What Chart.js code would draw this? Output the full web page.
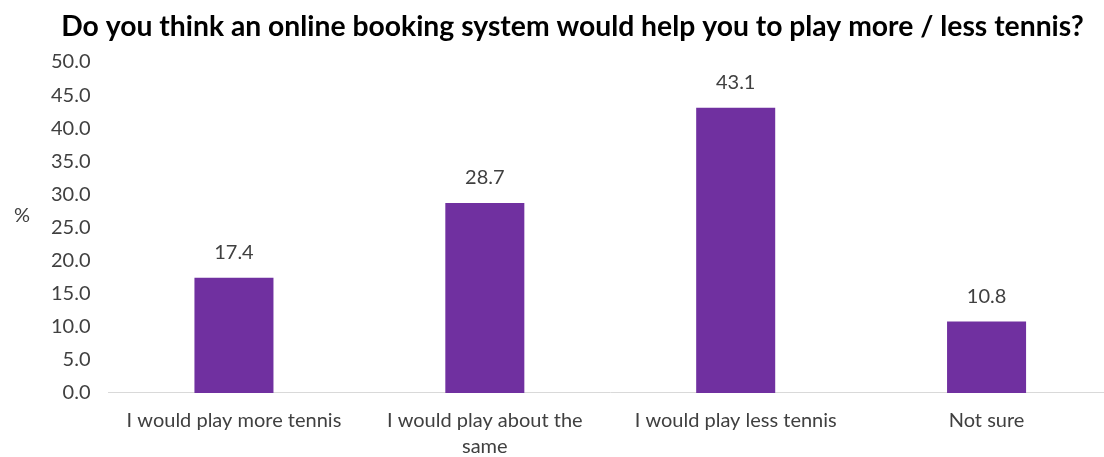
<!DOCTYPE html>
<html>
<head>
<meta charset="utf-8">
<script src="https://cdn.jsdelivr.net/npm/chart.js@4/dist/chart.umd.min.js"></script>
<style>
  html, body { margin: 0; padding: 0; background: #ffffff; overflow: hidden; }
  #wrap { width: 1112px; height: 457px; position: relative; }
</style>
</head>
<body>
<div id="wrap"><canvas id="chart"></canvas></div>
<script>
//Chart data
const categories = [
  "I would play more tennis",
  ["I would play about the", "same"],
  "I would play less tennis",
  "Not sure",
];
const percentages = [17.4, 28.7, 43.1, 10.8];
const yTicks = [0, 5, 10, 15, 20, 25, 30, 35, 40, 45, 50];

const fontFamily = "Lato, 'Open Sans', sans-serif";
const textColor = "#404040";

//Draws the value above each bar and the "%" axis label
const labelPlugin = {
  id: "barLabels",
  afterDatasetsDraw(chart) {
    const ctx = chart.ctx;
    const meta = chart.getDatasetMeta(0);
    ctx.save();
    ctx.font = `20px ${fontFamily}`;
    ctx.fillStyle = textColor;
    ctx.textAlign = "center";
    ctx.textBaseline = "middle";
    meta.data.forEach((bar, i) => {
      ctx.fillText(percentages[i].toFixed(1), bar.x, bar.y - 25);
    });
    const area = chart.chartArea;
    ctx.textAlign = "center";
    ctx.fillText("%", 22, (area.top + area.bottom) / 2 - 12);
    ctx.restore();
  },
};

new Chart(document.getElementById("chart"), {
  type: "bar",
  data: {
    labels: categories,
    datasets: [
      {
        data: percentages,
        backgroundColor: "#7030A0",
        borderWidth: 0,
        categoryPercentage: 1,
        barPercentage: 0.315,
      },
    ],
  },
  options: {
    responsive: true,
    maintainAspectRatio: false,
    animation: false,
    layout: { padding: { left: 33, right: 0, top: 0, bottom: -18 } },
    plugins: {
      legend: { display: false },
      tooltip: { enabled: false },
      title: {
        display: true,
        text: "Do you think an online booking system would help you to play more / less tennis?",
        color: "#000000",
        font: { family: fontFamily, size: 28.3, weight: "bold" },
        padding: { top: 10, bottom: 18 },
      },
    },
    scales: {
      x: {
        grid: { display: false, drawTicks: false },
        border: { display: true, color: "#d9d9d9", width: 1 },
        ticks: {
          color: textColor,
          font: { family: fontFamily, size: 20, lineHeight: 1.3 },
          padding: 15,
          maxRotation: 0,
        },
      },
      y: {
        min: 0,
        max: 50,
        grid: { display: false, drawTicks: false },
        border: { display: false },
        afterBuildTicks: axis => {
          axis.ticks = yTicks.map(v => ({ value: v }));
        },
        ticks: {
          color: textColor,
          font: { family: fontFamily, size: 20 },
          padding: 18,
          callback: v => v.toFixed(1),
        },
      },
    },
  },
  plugins: [labelPlugin],
});
</script>
</body>
</html>
